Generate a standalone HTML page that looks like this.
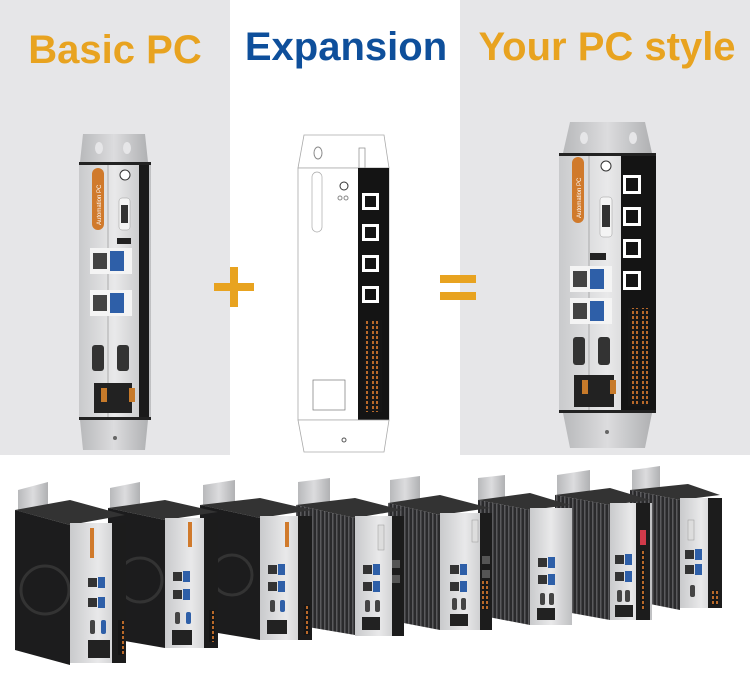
<!DOCTYPE html>
<html><head><meta charset="utf-8"><style>
html,body{margin:0;padding:0;background:#fff;}
svg{display:block;}
text{font-family:"Liberation Sans","DejaVu Sans",sans-serif;}
</style></head><body>
<svg width="750" height="683" viewBox="0 0 750 683" xmlns="http://www.w3.org/2000/svg">
<defs>
<linearGradient id="sil" x1="0" x2="1"><stop offset="0" stop-color="#c9cacc"/><stop offset="0.5" stop-color="#e9e9ea"/><stop offset="1" stop-color="#bfc0c2"/></linearGradient>
<linearGradient id="brk" x1="0" x2="1"><stop offset="0" stop-color="#b8b9bb"/><stop offset="0.5" stop-color="#dcdcde"/><stop offset="1" stop-color="#b0b1b3"/></linearGradient>
<pattern id="fins" width="4" height="10" patternUnits="userSpaceOnUse"><rect width="4" height="10" fill="#2a2a2c"/><rect width="1.5" height="10" fill="#5a5a5d"/></pattern>
<pattern id="term" width="10" height="5" patternUnits="userSpaceOnUse"><rect width="10" height="5" fill="#161616"/><rect x="2" y="1" width="2" height="3" fill="#b8692a"/><rect x="6" y="1" width="2" height="3" fill="#b8692a"/></pattern>
<pattern id="rj" width="10" height="16" patternUnits="userSpaceOnUse"><rect width="10" height="16" fill="none"/><rect x="1" y="2" width="8" height="10" fill="#333"/></pattern>
<g id="port"><rect x="0" y="0" width="9" height="9" fill="#333"/><rect x="10" y="-1" width="7" height="11" fill="#2e5fa8"/></g>
</defs>
<rect x="0" y="0" width="230" height="455" fill="#e6e6e8"/>
<rect x="230" y="0" width="230" height="455" fill="#ffffff"/>
<rect x="460" y="0" width="290" height="455" fill="#e6e6e8"/>

<text x="115" y="63" text-anchor="middle" font-size="40" fill="#e8a320" font-weight="bold">Basic PC</text>
<text x="346" y="60" text-anchor="middle" font-size="40" fill="#0e4f9b" font-weight="bold">Expansion</text>
<text x="607" y="60" text-anchor="middle" font-size="40" fill="#e8a320" font-weight="bold">Your PC style</text>

<rect x="214" y="283" width="40" height="8" fill="#e8a320"/>
<rect x="230" y="267" width="8" height="40" fill="#e8a320"/>
<rect x="440" y="275" width="36" height="8" fill="#e8a320"/>
<rect x="440" y="292" width="36" height="8" fill="#e8a320"/>

<!-- Left device -->
<polygon points="83,134 145,134 148,162 80,162" fill="url(#brk)"/>
<ellipse cx="99" cy="148" rx="4" ry="6" fill="#e6e6e8"/><ellipse cx="127" cy="148" rx="4" ry="6" fill="#e6e6e8"/>
<polygon points="80,420 148,420 145,450 83,450" fill="url(#brk)"/>
<circle cx="115" cy="438" r="2" fill="#666"/>
<rect x="79" y="162" width="72" height="258" fill="url(#sil)"/>
<rect x="79" y="162" width="72" height="3" fill="#222"/><rect x="79" y="417" width="72" height="3" fill="#222"/>
<rect x="139" y="165" width="10" height="252" fill="#1a1a1a"/>
<line x1="108" y1="165" x2="108" y2="417" stroke="#888" stroke-width="0.6"/>
<rect x="92" y="168" width="12" height="62" rx="6" fill="#d07a2c"/>
<text transform="translate(101,225) rotate(-90)" font-size="6" fill="#fff">Automation PC</text>
<circle cx="125" cy="175" r="5" fill="#fff" stroke="#333"/>
<rect x="119" y="198" width="11" height="32" rx="3" fill="#f4f4f4" stroke="#999" stroke-width=".5"/>
<rect x="121" y="205" width="7" height="18" fill="#333"/>
<rect x="117" y="238" width="14" height="6" fill="#222"/>
<rect x="90" y="248" width="42" height="26" fill="#f4f4f4"/>
<rect x="93" y="253" width="14" height="16" fill="#444"/><rect x="110" y="251" width="14" height="20" fill="#2e5fa8"/>
<rect x="90" y="290" width="42" height="26" fill="#f4f4f4"/>
<rect x="93" y="295" width="14" height="16" fill="#444"/><rect x="110" y="293" width="14" height="20" fill="#2e5fa8"/>
<rect x="92" y="345" width="12" height="26" rx="3" fill="#333"/><rect x="117" y="345" width="12" height="26" rx="3" fill="#333"/>
<rect x="94" y="383" width="38" height="30" fill="#222"/>
<rect x="101" y="388" width="6" height="14" fill="#c77a2a"/><rect x="129" y="388" width="6" height="14" fill="#c77a2a"/>

<!-- Middle outline device -->
<polygon points="304,135 384,135 389,168 298,168" fill="#fff" stroke="#aaa" stroke-width=".8"/>
<ellipse cx="318" cy="153" rx="4" ry="6" fill="none" stroke="#888"/>
<rect x="359" y="148" width="6" height="20" fill="none" stroke="#888" stroke-width=".7"/>
<rect x="298" y="168" width="91" height="252" fill="#fff" stroke="#aaa" stroke-width=".8"/>
<rect x="312" y="172" width="10" height="60" rx="5" fill="none" stroke="#aaa" stroke-width=".7"/>
<circle cx="344" cy="186" r="4" fill="none" stroke="#333"/>
<circle cx="340" cy="198" r="2" fill="none" stroke="#888"/><circle cx="346" cy="198" r="2" fill="none" stroke="#888"/>
<rect x="358" y="168" width="31" height="252" fill="#141414"/>
<g fill="#fff"><rect x="362" y="193" width="17" height="17"/><rect x="362" y="224" width="17" height="17"/><rect x="362" y="255" width="17" height="17"/><rect x="362" y="286" width="17" height="17"/></g>
<g fill="#141414"><rect x="365" y="196" width="11" height="11"/><rect x="365" y="227" width="11" height="11"/><rect x="365" y="258" width="11" height="11"/><rect x="365" y="289" width="11" height="11"/></g>
<rect x="364" y="320" width="18" height="92" fill="url(#term)"/>
<rect x="313" y="380" width="32" height="30" fill="#fff" stroke="#777" stroke-width=".7"/>
<polygon points="298,420 389,420 384,452 304,452" fill="#fff" stroke="#aaa" stroke-width=".8"/>
<circle cx="344" cy="440" r="2" fill="none" stroke="#555"/>

<!-- Right device -->
<polygon points="570,122 645,122 652,153 563,153" fill="url(#brk)"/>
<ellipse cx="584" cy="138" rx="4" ry="6" fill="#e6e6e8"/><ellipse cx="633" cy="138" rx="4" ry="6" fill="#e6e6e8"/>
<polygon points="563,413 652,413 645,448 570,448" fill="url(#brk)"/>
<circle cx="607" cy="432" r="2" fill="#666"/>
<rect x="559" y="153" width="97" height="260" fill="url(#sil)"/>
<rect x="559" y="153" width="97" height="3" fill="#222"/><rect x="559" y="410" width="97" height="3" fill="#222"/>
<rect x="621" y="156" width="35" height="254" fill="#141414"/>
<line x1="589" y1="156" x2="589" y2="410" stroke="#888" stroke-width=".6"/>
<rect x="572" y="157" width="12" height="66" rx="6" fill="#d07a2c"/>
<text transform="translate(581,218) rotate(-90)" font-size="6" fill="#fff">Automation PC</text>
<circle cx="606" cy="166" r="5" fill="#fff" stroke="#333"/>
<rect x="600" y="197" width="12" height="40" rx="3" fill="#f4f4f4" stroke="#999" stroke-width=".5"/>
<rect x="602" y="205" width="8" height="22" fill="#333"/>
<rect x="590" y="253" width="16" height="7" fill="#222"/>
<rect x="570" y="266" width="42" height="26" fill="#f4f4f4"/>
<rect x="573" y="271" width="14" height="16" fill="#444"/><rect x="590" y="269" width="14" height="20" fill="#2e5fa8"/>
<rect x="570" y="298" width="42" height="26" fill="#f4f4f4"/>
<rect x="573" y="303" width="14" height="16" fill="#444"/><rect x="590" y="301" width="14" height="20" fill="#2e5fa8"/>
<rect x="573" y="337" width="12" height="28" rx="3" fill="#333"/><rect x="598" y="337" width="12" height="28" rx="3" fill="#333"/>
<rect x="574" y="375" width="40" height="32" fill="#222"/>
<rect x="582" y="380" width="6" height="14" fill="#c77a2a"/><rect x="610" y="380" width="6" height="14" fill="#c77a2a"/>
<g fill="#fff"><rect x="623" y="175" width="18" height="19"/><rect x="623" y="207" width="18" height="19"/><rect x="623" y="239" width="18" height="19"/><rect x="623" y="271" width="18" height="19"/></g>
<g fill="#141414"><rect x="626" y="178" width="12" height="13"/><rect x="626" y="210" width="12" height="13"/><rect x="626" y="242" width="12" height="13"/><rect x="626" y="274" width="12" height="13"/></g>
<rect x="628" y="308" width="20" height="98" fill="url(#term)"/>

<!-- Bottom devices -->
<!-- d8 -->
<polygon points="632,470 660,466 660,490 632,495" fill="url(#brk)"/>
<polygon points="630,490 688,484 720,495 680,500" fill="#333"/>
<polygon points="630,490 680,500 680,610 630,600" fill="url(#fins)"/>
<rect x="680" y="498" width="42" height="110" fill="url(#sil)"/>
<rect x="708" y="498" width="14" height="110" fill="#1c1c1c"/>
<rect x="688" y="520" width="6" height="20" fill="#ddd" stroke="#999" stroke-width=".5"/>
<use href="#port" x="685" y="550"/><use href="#port" x="685" y="565"/>
<rect x="690" y="585" width="5" height="12" rx="2" fill="#444"/>
<rect x="712" y="590" width="6" height="15" fill="url(#term)"/>
<!-- d7 -->
<polygon points="557,475 590,470 590,495 557,500" fill="url(#brk)"/>
<polygon points="555,495 610,488 650,500 610,505" fill="#333"/>
<polygon points="555,495 610,505 610,620 555,610" fill="url(#fins)"/>
<rect x="610" y="503" width="42" height="117" fill="url(#sil)"/>
<rect x="636" y="503" width="14" height="117" fill="#1c1c1c"/>
<rect x="640" y="530" width="6" height="15" fill="#d13a4a"/>
<rect x="640" y="550" width="5" height="60" fill="url(#term)"/>
<use href="#port" x="615" y="555"/><use href="#port" x="615" y="572"/>
<rect x="617" y="590" width="5" height="12" rx="2" fill="#444"/><rect x="625" y="590" width="5" height="12" rx="2" fill="#444"/>
<rect x="615" y="605" width="18" height="12" fill="#222"/>
<!-- d6 -->
<polygon points="478,478 505,475 505,500 478,505" fill="url(#brk)"/>
<polygon points="478,500 530,493 570,505 530,510" fill="#333"/>
<polygon points="478,500 530,510 530,625 478,615" fill="url(#fins)"/>
<rect x="530" y="508" width="42" height="117" fill="url(#sil)"/>
<use href="#port" x="538" y="558"/><use href="#port" x="538" y="575"/>
<rect x="540" y="593" width="5" height="12" rx="2" fill="#444"/><rect x="549" y="593" width="5" height="12" rx="2" fill="#444"/>
<rect x="537" y="608" width="18" height="12" fill="#222"/>
<!-- d5 -->
<polygon points="390,480 420,476 420,502 390,507" fill="url(#brk)"/>
<polygon points="388,503 440,495 490,508 440,515" fill="#333"/>
<polygon points="388,503 440,515 440,630 388,620" fill="url(#fins)"/>
<rect x="440" y="513" width="50" height="117" fill="url(#sil)"/>
<rect x="480" y="513" width="12" height="117" fill="#1c1c1c"/>
<rect x="472" y="520" width="6" height="22" fill="#ddd" stroke="#999" stroke-width=".5"/>
<rect x="482" y="556" width="8" height="8" fill="#555"/><rect x="482" y="570" width="8" height="8" fill="#555"/>
<use href="#port" x="450" y="565"/><use href="#port" x="450" y="582"/>
<rect x="452" y="598" width="5" height="12" rx="2" fill="#444"/><rect x="461" y="598" width="5" height="12" rx="2" fill="#444"/>
<rect x="450" y="614" width="18" height="12" fill="#222"/>
<rect x="482" y="580" width="6" height="30" fill="url(#term)"/>
<!-- d4 -->
<polygon points="298,482 330,478 330,505 298,510" fill="url(#brk)"/>
<polygon points="296,505 355,498 402,510 355,518" fill="#333"/>
<polygon points="296,505 355,518 355,635 296,625" fill="url(#fins)"/>
<rect x="355" y="516" width="48" height="120" fill="url(#sil)"/>
<rect x="392" y="516" width="12" height="120" fill="#1c1c1c"/>
<rect x="378" y="525" width="6" height="25" fill="#ddd" stroke="#999" stroke-width=".5"/>
<rect x="392" y="560" width="8" height="8" fill="#555"/><rect x="392" y="575" width="8" height="8" fill="#555"/>
<use href="#port" x="363" y="565"/><use href="#port" x="363" y="582"/>
<rect x="365" y="600" width="5" height="12" rx="2" fill="#444"/><rect x="375" y="600" width="5" height="12" rx="2" fill="#444"/>
<rect x="362" y="617" width="18" height="13" fill="#222"/>
<!-- d3 -->
<polygon points="203,485 235,480 235,505 203,512" fill="url(#brk)"/>
<polygon points="200,505 260,498 312,510 260,518" fill="#333"/>
<polygon points="200,505 260,518 260,640 200,630" fill="#1c1c1d"/>
<circle cx="232" cy="575" r="20" fill="none" stroke="#333" stroke-width="3"/>
<rect x="260" y="516" width="52" height="124" fill="url(#sil)"/>
<rect x="298" y="516" width="14" height="124" fill="#1c1c1c"/>
<rect x="285" y="522" width="4" height="25" fill="#d07a2c"/>
<use href="#port" x="268" y="565"/><use href="#port" x="268" y="582"/>
<rect x="270" y="600" width="5" height="12" rx="2" fill="#444"/><rect x="280" y="600" width="5" height="12" rx="2" fill="#2e5fa8"/>
<rect x="267" y="620" width="20" height="14" fill="#222"/>
<rect x="304" y="605" width="6" height="30" fill="url(#term)"/>
<!-- d2 -->
<polygon points="110,488 140,482 140,510 110,515" fill="url(#brk)"/>
<polygon points="108,508 165,500 218,512 165,520" fill="#333"/>
<polygon points="108,508 165,520 165,648 108,638" fill="#1c1c1d"/>
<circle cx="140" cy="580" r="22" fill="none" stroke="#333" stroke-width="3"/>
<rect x="165" y="518" width="52" height="130" fill="url(#sil)"/>
<rect x="204" y="518" width="14" height="130" fill="#1c1c1c"/>
<rect x="188" y="522" width="4" height="25" fill="#d07a2c"/>
<use href="#port" x="173" y="572"/><use href="#port" x="173" y="590"/>
<rect x="175" y="612" width="5" height="12" rx="2" fill="#444"/><rect x="186" y="612" width="5" height="12" rx="2" fill="#2e5fa8"/>
<rect x="172" y="630" width="20" height="15" fill="#222"/>
<rect x="209" y="610" width="6" height="32" fill="url(#term)"/>
<!-- d1 -->
<polygon points="18,490 48,482 48,512 18,518" fill="url(#brk)"/>
<polygon points="15,510 70,500 125,515 70,525" fill="#333"/>
<polygon points="15,510 70,525 70,665 15,650" fill="#1c1c1d"/>
<circle cx="45" cy="590" r="24" fill="none" stroke="#333" stroke-width="3"/>
<rect x="70" y="523" width="56" height="140" fill="url(#sil)"/>
<rect x="112" y="523" width="14" height="140" fill="#1c1c1c"/>
<rect x="90" y="528" width="4" height="30" fill="#d07a2c"/>
<use href="#port" x="88" y="578"/><use href="#port" x="88" y="598"/>
<rect x="90" y="620" width="5" height="14" rx="2" fill="#444"/><rect x="101" y="620" width="5" height="14" rx="2" fill="#2e5fa8"/>
<rect x="88" y="640" width="22" height="18" fill="#222"/>
<rect x="118" y="620" width="6" height="35" fill="url(#term)"/>
</svg>
</body></html>
